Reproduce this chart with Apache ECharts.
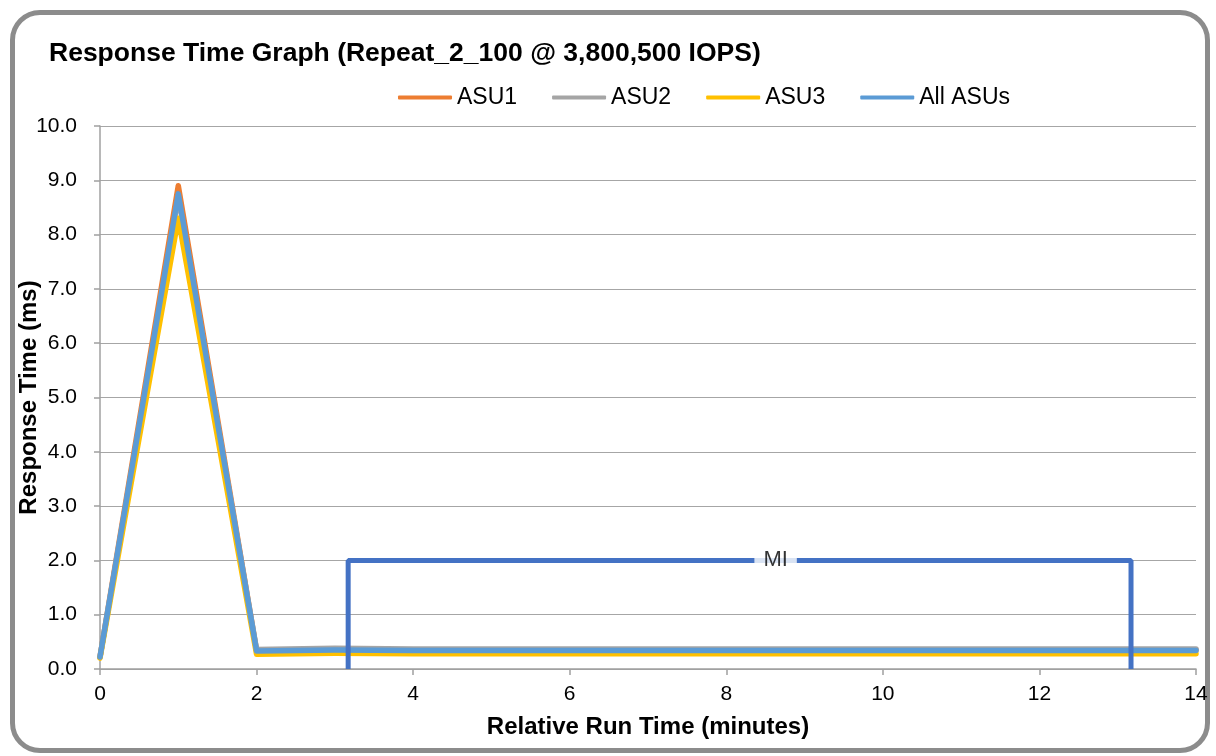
<!DOCTYPE html>
<html>
<head>
<meta charset="utf-8">
<script src="https://cdn.jsdelivr.net/npm/echarts@6/dist/echarts.min.js"></script>
<style>
html,body{margin:0;padding:0;background:#fff;}
#frame{position:absolute;left:10px;top:10px;width:1190px;height:733px;border:5px solid #8c8c8c;border-radius:30px;}
#chart{position:absolute;left:0;top:0;width:1216px;height:756px;}
</style>
</head>
<body>
<div id="frame"></div>
<div id="chart"></div>
<script>
const minutes = [0,1,2,3,4,5,6,7,8,9,10,11,12,13,14];
const asu1 = [0.22,8.90,0.34,0.36,0.35,0.35,0.35,0.35,0.35,0.35,0.35,0.35,0.35,0.35,0.35];
const asu2 = [0.22,8.70,0.36,0.38,0.37,0.37,0.37,0.37,0.37,0.37,0.37,0.37,0.37,0.37,0.37];
const asu3 = [0.20,8.30,0.27,0.29,0.28,0.28,0.28,0.28,0.28,0.28,0.28,0.28,0.28,0.28,0.28];
const allAsus = [0.22,8.75,0.33,0.35,0.34,0.34,0.34,0.34,0.34,0.34,0.34,0.34,0.34,0.34,0.34];
const miStart = 3.17, miEnd = 13.17, miHeight = 2.0, miLabelX = 8.63;
const yTicks = ['0.0','1.0','2.0','3.0','4.0','5.0','6.0','7.0','8.0','9.0','10.0'];

const pair = arr => minutes.map((m,i)=>[m,arr[i]]);
const font = 'Liberation Sans, Arial, sans-serif';
const chart = echarts.init(document.getElementById('chart'));
const lineS = (name,color,data,z) => ({
  name, type:'line', data:pair(data), symbol:'none', z,
  lineStyle:{color, width:5.5, cap:'round', join:'round'}, itemStyle:{color}
});
chart.setOption({
  animation:false,
  title:{text:'Response Time Graph (Repeat_2_100 @ 3,800,500 IOPS)', left:44, top:35,
    textStyle:{fontFamily:font, fontSize:26.5, fontWeight:'bold', color:'#000'}},
  legend:{top:81, left:393, itemWidth:54, itemHeight:4, itemGap:35,
    data:['ASU1','ASU2','ASU3','All ASUs'],
    icon:'roundRect',
    textStyle:{fontFamily:font, fontSize:23, color:'#000'}},
  grid:{left:100, right:20, top:126, bottom:87, containLabel:false, outerBoundsMode:'none'},
  xAxis:{type:'value', min:0, max:14, interval:2,
    name:'Relative Run Time (minutes)', nameLocation:'middle', nameGap:46, nameMoveOverlap:false,
    nameTextStyle:{fontFamily:font, fontSize:24, fontWeight:'bold', color:'#000'},
    axisLine:{lineStyle:{color:'#a0a0a0', width:1.5}},
    axisTick:{show:true, length:6, lineStyle:{color:'#a0a0a0', width:1.5}},
    axisLabel:{fontFamily:font, fontSize:21, color:'#000', margin:15},
    splitLine:{show:false}},
  yAxis:{type:'value', min:0, max:10, interval:1,
    name:'Response Time (ms)', nameLocation:'middle', nameGap:59, nameMoveOverlap:false,
    nameTextStyle:{fontFamily:font, fontSize:24, fontWeight:'bold', color:'#000'},
    axisLine:{show:true, lineStyle:{color:'#a0a0a0', width:1.5}},
    axisTick:{show:true, length:6, lineStyle:{color:'#a0a0a0', width:1.5}},
    axisLabel:{fontFamily:font, fontSize:21, color:'#000', margin:23,
      formatter:(v)=>yTicks[Math.round(v)]},
    splitLine:{lineStyle:{color:'#a6a6a6', width:1.2}}},
  series:[
    lineS('ASU1','#ED7D31',asu1,2),
    lineS('ASU2','#A5A5A5',asu2,3),
    lineS('ASU3','#FFC000',asu3,4),
    lineS('All ASUs','#5B9BD5',allAsus,5),
    {name:'MI', type:'line', symbol:'none', z:6,
     data:[[miStart,0],[miStart,miHeight],[miEnd,miHeight],[miEnd,0]],
     lineStyle:{color:'#4472C4', width:5}},
    {name:'MI label', type:'scatter', symbolSize:0, z:10, silent:true,
     data:[[miLabelX,miHeight]],
     label:{show:true, position:'inside', formatter:'MI', fontFamily:font, fontSize:22, color:'#000',
       backgroundColor:'#fff', padding:[2,9,2,9]}}
  ]
});
</script>
</body>
</html>
